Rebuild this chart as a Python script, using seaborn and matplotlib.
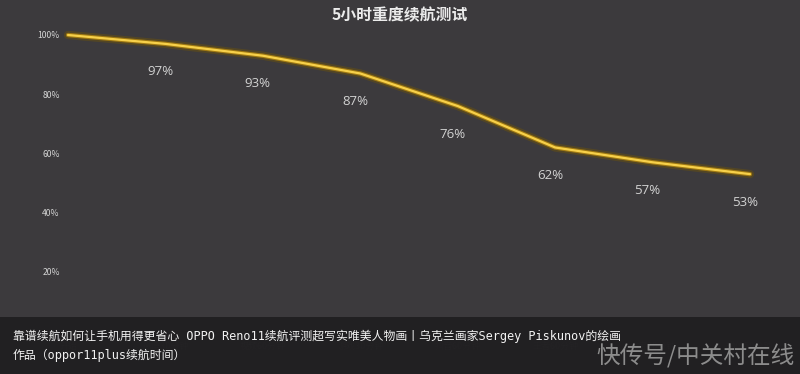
import matplotlib
matplotlib.use("Agg")
import matplotlib.pyplot as plt
import matplotlib.patheffects as pe
from matplotlib.patches import Rectangle
import seaborn as sns
import pandas as pd

# ---- data ----
categories = ["开始", "微博30分钟", "视频60分钟", "游戏30分钟", "抖音60分钟", "王者60分钟", "淘宝20分钟", "微信50分钟"]
battery = [100, 97, 93, 87, 76, 62, 57, 53]
labels = ["", "97%", "93%", "87%", "76%", "62%", "57%", "53%"]
yticks = [20, 40, 60, 80, 100]
ytick_labels = ["20%", "40%", "60%", "80%", "100%"]
title = "5小时重度续航测试"
caption1 = "靠谱续航如何让手机用得更省心 OPPO Reno11续航评测超写实唯美人物画丨乌克兰画家Sergey Piskunov的绘画"
caption2 = "作品（oppor11plus续航时间）"
watermark = "快传号/中关村在线"

sns.set_theme(style="dark")
plt.rcParams["font.family"] = ["Noto Sans CJK SC", "DejaVu Sans"]

BG = "#3c3a3d"
fig = plt.figure(figsize=(8, 3.74), dpi=100, facecolor=BG)
ax = fig.add_axes([68/800, 1-331/374, (750-68)/800, (331-35)/374])
ax.set_facecolor(BG)

df = pd.DataFrame({"idx": range(len(categories)), "battery": battery})
sns.lineplot(data=df, x="idx", y="battery", ax=ax, color="#f7d04a", linewidth=1.6,
             clip_on=False, zorder=5)
line = ax.lines[0]
line.set_path_effects([pe.Stroke(linewidth=6, foreground="#6e5408", alpha=0.45),
                       pe.Stroke(linewidth=3.2, foreground="#b88a0c", alpha=0.75),
                       pe.Normal()])
line.set_solid_capstyle("round")

ax.set_xlim(0, len(categories) - 1)
ax.set_ylim(0, 100)
for s in ax.spines.values():
    s.set_visible(False)
ax.grid(False)
ax.set_xlabel("")
ax.set_ylabel("")
ax.set_yticks(yticks)
ax.set_yticklabels(ytick_labels, fontsize=6.2, color="#d4d4d4")
ax.tick_params(axis="y", length=0, pad=6)
ax.set_xticks(range(len(categories)))
ax.set_xticklabels(categories, fontsize=6.5, color="#9a9a9a", alpha=0.35)
ax.tick_params(axis="x", length=0, pad=8)

for i, (v, t) in enumerate(zip(battery, labels)):
    if t:
        ax.annotate(t, (i, v), xytext=(-5, -28), textcoords="offset pixels",
                    ha="center", va="center", fontsize=9.5, color="#d2d2d2",
                    family=["Open Sans", "DejaVu Sans"])

fig.text(0.5, 1-15/374, title, ha="center", va="center", fontsize=11.4,
         fontweight="bold", color="#ececec")

# caption overlay
fig.patches.append(Rectangle((0, 0), 1, 1-317/374, transform=fig.transFigure,
                             facecolor="#1f1e20", alpha=0.93, zorder=10, edgecolor="none"))
capfam = ["DejaVu Sans Mono", "Noto Sans CJK SC"]
fig.text(13/800, 1-336/374, caption1, ha="left", va="center", fontsize=8.55,
         color="#f2f2f2", family=capfam, zorder=11)
fig.text(13/800, 1-355/374, caption2, ha="left", va="center", fontsize=8.55,
         color="#f2f2f2", family=capfam, zorder=11)
fig.text(795/800, 1-356/374, watermark, ha="right", va="center", fontsize=17,
         color="#8c8c8c", zorder=11)

fig.savefig("out.png", dpi=100, facecolor=BG)
